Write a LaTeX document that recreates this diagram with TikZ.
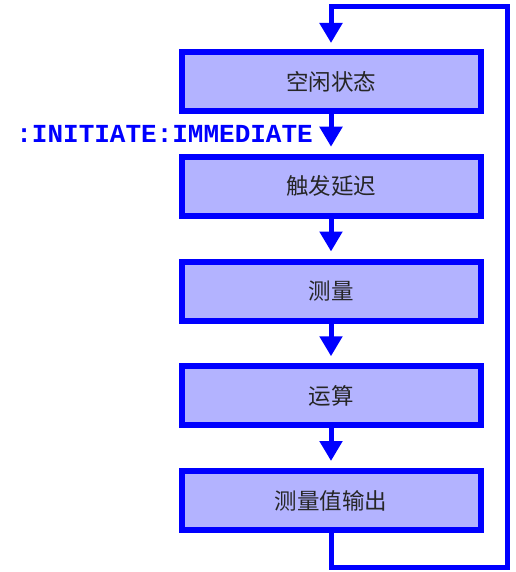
\documentclass[tikz,border=0pt]{standalone}
\usepackage{fontspec}
\newfontfamily\cjk{Noto Sans CJK SC}
\newfontfamily\codefont{Liberation Mono}
\usetikzlibrary{positioning,arrows.meta,calc}
\definecolor{stepblue}{RGB}{0,0,255}
\definecolor{stepfill}{RGB}{179,179,255}

\begin{document}
\begin{tikzpicture}[
        node distance=39.75pt,
        box/.style={rectangle, draw=stepblue, line width=6pt, fill=stepfill, minimum width=299pt, minimum height=59pt, inner sep=0pt, align=center, font=\cjk\fontsize{22.5}{26}\selectfont, text=black!85},
        arr/.style={-{Triangle[width=22pt, length=20pt]}, line width=5pt, draw=stepblue, shorten >=7pt},
        lbl/.style={font=\codefont\bfseries\fontsize{26}{30}\selectfont, text=stepblue, inner sep=0pt},
    ]
    \useasboundingbox (0,0) rectangle (515pt,-572pt);

    % ----- steps -----
    \node[box] (idle) at (331pt,-81.5pt) {空闲状态};
    \node[box, below=of idle] (trig) {触发延迟};
    \node[box, below=of trig] (meas) {测量};
    \node[box, below=of meas] (calc) {运算};
    \node[box, below=of calc] (out) {测量值输出};

    \draw[arr] (idle) -- (trig);
    \draw[arr] (trig) -- (meas);
    \draw[arr] (meas) -- (calc);
    \draw[arr] (calc) -- (out);

    % ----- return loop -----
    \coordinate (loopbot) at (507.5pt,-567pt);
    \coordinate (looptop) at (507.5pt,-6.5pt);
    \draw[arr, shorten >=6pt] (out.south) |- (loopbot) -- (looptop) -| (idle.north);

    % ----- command -----
    \node[lbl, anchor=east] (cmd) at ($(idle.south)!0.5!(trig.north)+(-18pt,0)$) {:INITIATE:IMMEDIATE};
\end{tikzpicture}
\end{document}
